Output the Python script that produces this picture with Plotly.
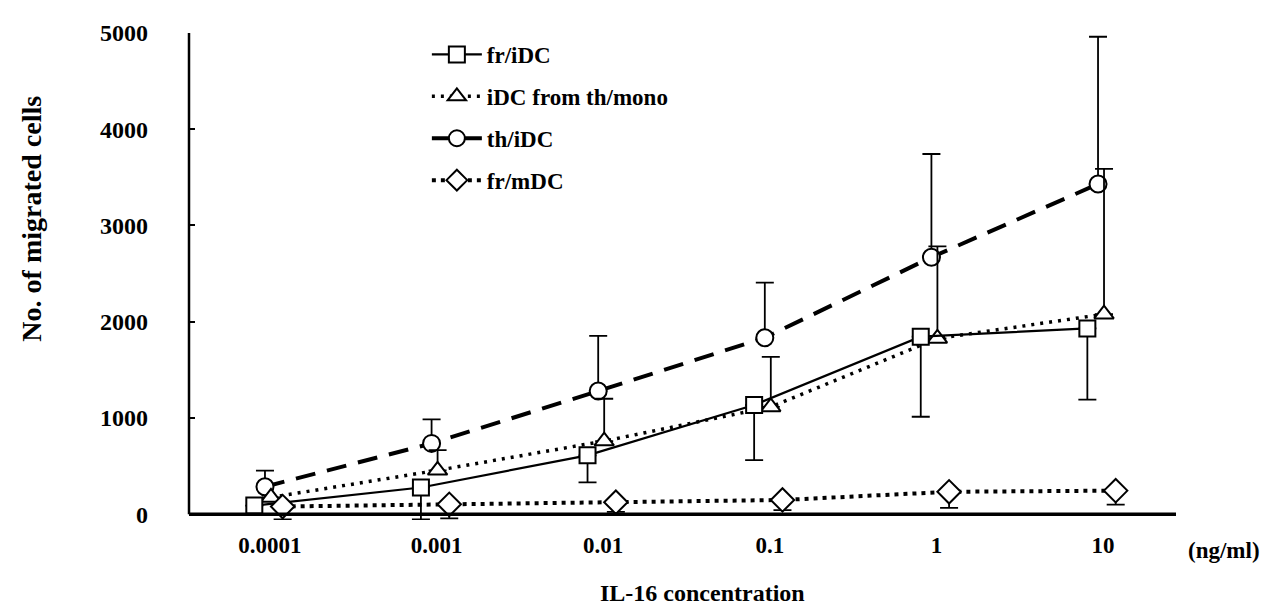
import plotly.graph_objects as go

# ---- data ----
conc_labels = ["0.0001", "0.001", "0.01", "0.1", "1", "10"]

fr_iDC = [90, 278, 612, 1135, 1845, 1930]
fr_iDC_err_down = [0, 333, 282, 573, 832, 740]

iDC_th_mono = [175, 456, 760, 1115, 1826, 2078]
iDC_th_mono_err_up = [0, 210, 440, 520, 958, 1510]

th_iDC = [286, 736, 1280, 1834, 2670, 3431]
th_iDC_err_up = [167, 250, 573, 573, 1073, 1530]

fr_mDC = [80, 103, 125, 148, 233, 245]
fr_mDC_err_down = [135, 146, 100, 105, 167, 146]

y_ticks = [0, 1000, 2000, 3000, 4000, 5000]

# ---- styling ----
FONT = "Liberation Serif"
idx = list(range(len(conc_labels)))
offsets = {"fr/iDC": -0.094, "iDC from th/mono": 0.006, "th/iDC": -0.03, "fr/mDC": 0.076}


def xs(name):
    return [i + offsets[name] for i in idx]


fig = go.Figure()

fig.add_trace(go.Scatter(
    x=xs("th/iDC"), y=th_iDC, name="th/iDC", mode="lines+markers",
    line=dict(color="black", width=4, dash="20px,12px"),
    marker=dict(symbol="circle", size=17, color="white", line=dict(width=2, color="black")),
    error_y=dict(type="data", symmetric=False, array=th_iDC_err_up,
                 arrayminus=[0] * 6, color="black", thickness=1.8, width=9),
    legendgroup="c", legendrank=3,
))
fig.add_trace(go.Scatter(
    x=xs("iDC from th/mono"), y=iDC_th_mono, name="iDC from th/mono", mode="lines+markers",
    line=dict(color="black", width=3.5, dash="3px,6px"),
    marker=dict(symbol="triangle-up", size=17, color="white", line=dict(width=2, color="black")),
    error_y=dict(type="data", symmetric=False, array=iDC_th_mono_err_up,
                 arrayminus=[0] * 6, color="black", thickness=1.8, width=9),
    legendgroup="b", legendrank=2,
))
fig.add_trace(go.Scatter(
    x=xs("fr/iDC"), y=fr_iDC, name="fr/iDC", mode="lines+markers",
    line=dict(color="black", width=2.2),
    marker=dict(symbol="square", size=16, color="white", line=dict(width=2, color="black")),
    error_y=dict(type="data", symmetric=False, array=[0] * 6,
                 arrayminus=fr_iDC_err_down, color="black", thickness=1.8, width=9),
    legendgroup="a", legendrank=1,
))
fig.add_trace(go.Scatter(
    x=xs("fr/mDC"), y=fr_mDC, name="fr/mDC", mode="lines+markers",
    line=dict(color="black", width=4, dash="4px,5px"),
    marker=dict(symbol="diamond", size=18, color="white", line=dict(width=2, color="black")),
    error_y=dict(type="data", symmetric=False, array=[0] * 6,
                 arrayminus=fr_mDC_err_down, color="black", thickness=1.8, width=9),
    legendgroup="d", legendrank=4,
))

# axis lines
fig.add_shape(type="line", xref="paper", yref="y", x0=0, x1=1, y0=0, y1=0,
              line=dict(color="black", width=3.5))
fig.add_shape(type="line", xref="paper", yref="y", x0=0, x1=0, y0=0, y1=5000,
              line=dict(color="black", width=2.5))

fig.update_layout(
    width=1268, height=605,
    margin=dict(l=181, r=100, t=25, b=93),
    paper_bgcolor="white", plot_bgcolor="white",
    font=dict(family=FONT, size=24, color="black", weight="bold"),
    showlegend=True,
    legend=dict(x=0.241, y=1.0, xanchor="left", yanchor="top",
                bgcolor="rgba(0,0,0,0)",
                font=dict(family=FONT, size=23, color="black", weight="bold"),
                traceorder="grouped", tracegroupgap=9, itemwidth=50),
    xaxis=dict(range=[-0.486, 5.438], tickmode="array", tickvals=idx, ticktext=conc_labels,
               showgrid=False, zeroline=False, showline=False, ticks="",
               tickfont=dict(family=FONT, size=23, color="black", weight="bold"),
               ticklabelstandoff=9),
    yaxis=dict(range=[-60, 5000], tickmode="array", tickvals=y_ticks,
               ticktext=[str(v) for v in y_ticks],
               showgrid=False, zeroline=False, showline=False,
               ticks="inside", ticklen=6, tickwidth=2, tickcolor="black",
               tickfont=dict(family=FONT, size=24, color="black", weight="bold"),
               ticklabelstandoff=40),
)

fig.add_annotation(text="(ng/ml)", xref="paper", yref="paper", x=1.049, y=-0.062,
                   showarrow=False, font=dict(family=FONT, size=23, color="black", weight="bold"),
                   xanchor="center", yanchor="middle")
fig.add_annotation(text="IL-16 concentration", xref="paper", yref="paper", x=0.52, y=-0.150,
                   showarrow=False, font=dict(family=FONT, size=24, color="black", weight="bold"),
                   xanchor="center", yanchor="middle")
fig.add_annotation(text="No. of migrated cells", xref="paper", yref="paper", x=-0.160, y=0.619,
                   showarrow=False, textangle=-90,
                   font=dict(family=FONT, size=28, color="black", weight="bold"),
                   xanchor="center", yanchor="middle")

fig.write_html("out.html")
